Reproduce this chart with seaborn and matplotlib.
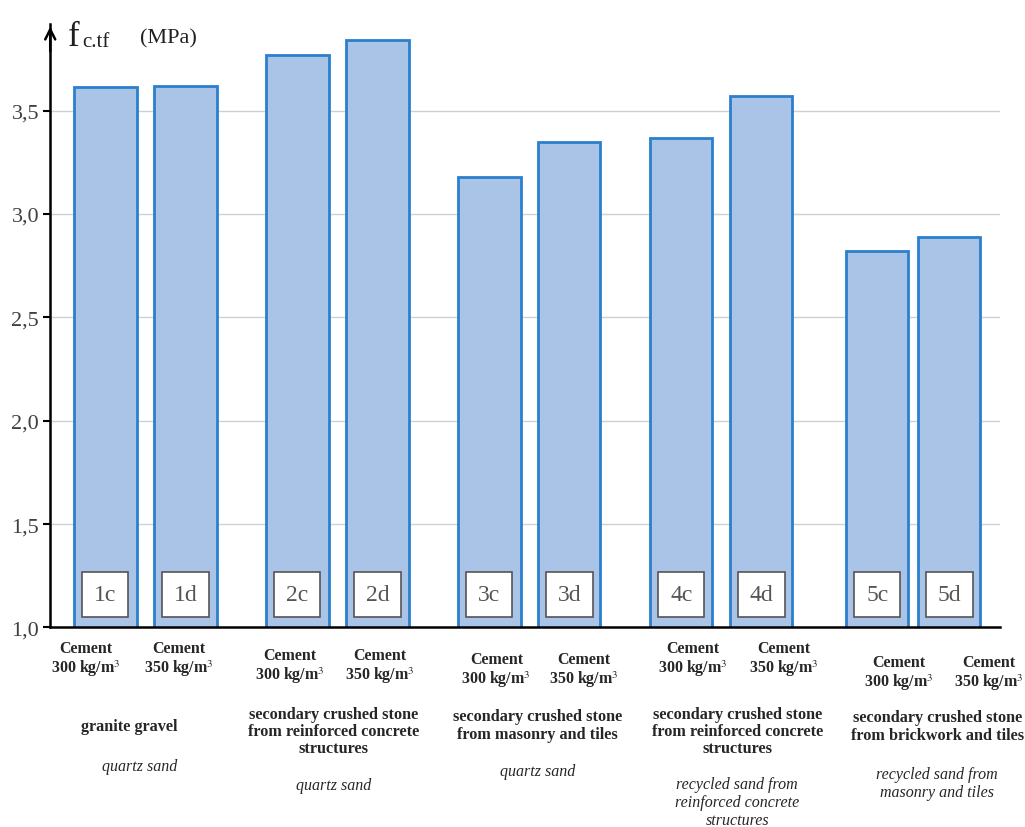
import numpy as np
import pandas as pd
import matplotlib
matplotlib.use("Agg")
import matplotlib.pyplot as plt
import matplotlib.transforms as mtransforms
import seaborn as sns

# Data
samples = ["1c", "1d", "2c", "2d", "3c", "3d", "4c", "4d", "5c", "5d"]
group_idx = [0, 0, 1, 1, 2, 2, 3, 3, 4, 4]
within_idx = [0, 1, 0, 1, 0, 1, 0, 1, 0, 1]
strength = [3.615, 3.62, 3.77, 3.84, 3.18, 3.35, 3.37, 3.57, 2.82, 2.89]
cement = ["Cement\n300 kg/m$^3$", "Cement\n350 kg/m$^3$"] * 5
gravel = [
    "granite gravel",
    "secondary crushed stone\nfrom reinforced concrete\nstructures",
    "secondary crushed stone\nfrom masonry and tiles",
    "secondary crushed stone\nfrom reinforced concrete\nstructures",
    "secondary crushed stone\nfrom brickwork and tiles",
]
sand = [
    "quartz sand",
    "quartz sand",
    "quartz sand",
    "recycled sand from\nreinforced concrete\nstructures",
    "recycled sand from\nmasonry and tiles",
]
yticks = [1.0, 1.5, 2.0, 2.5, 3.0, 3.5]

# positions: groups spaced wider than bars inside a group
pos = [g * 2.4 + w for g, w in zip(group_idx, within_idx)]
# last pair sits a little closer together
pos = [p + (0.05 - 0.1 * w if g == 4 else 0)
       for p, g, w in zip(pos, group_idx, within_idx)]
df = pd.DataFrame({"pos": pos, "fc": strength, "sample": samples})

sns.set_style("white")
plt.rcParams["font.family"] = ["Liberation Serif", "DejaVu Serif"]
plt.rcParams["mathtext.fontset"] = "stix"

fig = plt.figure(figsize=(10.25, 8.28), dpi=100)
ax = fig.add_axes([0.049, 0.241, 0.927, 0.729])

# native_scale width is relative to the smallest spacing (0.9 here)
sns.barplot(data=df, x="pos", y="fc", native_scale=True, width=0.78 / 0.9,
            color="#a9c4e6", edgecolor="#2b7fcc", linewidth=2,
            saturation=1, ax=ax, zorder=2)

ax.set_ylim(1.0, 3.92)
ax.set_xlim(-0.69, 11.19)
ax.set_yticks(yticks)
ax.set_yticklabels([f"{v:.1f}".replace(".", ",") for v in yticks],
                   fontsize=16, color="#404040")
ax.tick_params(axis="y", length=5, width=1.5, color="black", pad=3, left=True)
ax.set_xticks([])
ax.set_xlabel("")
ax.set_ylabel("")
for v in yticks[1:]:
    ax.axhline(v, color="#d0d0d0", lw=1, zorder=1)

for s in ["top", "right"]:
    ax.spines[s].set_visible(False)
ax.spines["left"].set_linewidth(1.8)
ax.spines["bottom"].set_linewidth(1.8)
ax.spines["left"].set_color("black")
ax.spines["bottom"].set_color("black")

# arrow on y axis
ax.annotate("", xy=(0, 1.0), xytext=(0, 0.95), xycoords="axes fraction",
            arrowprops=dict(arrowstyle="->", color="black", lw=1.8,
                            mutation_scale=18))

# axis title
fig.text(0.066, 0.945, "f", fontsize=25, color="#202020", va="baseline")
fig.text(0.080, 0.943, "c.tf", fontsize=15, color="#202020", va="baseline")
fig.text(0.137, 0.948, "(MPa)", fontsize=16, color="#202020", va="baseline")

# sample labels in boxes
for p, s in zip(pos, samples):
    ax.text(p, 1.16, s, ha="center", va="center", fontsize=17, color="#555555",
            bbox=dict(boxstyle="square,pad=0.5", fc="white", ec="#555555", lw=1.2),
            zorder=3)

trans = mtransforms.blended_transform_factory(ax.transData, fig.transFigure)
# label offsets in pixels (80 px per x unit)
cem_dx = [-20, -7, -8, 2, 7, 15, 12, 23, 22, 40]
cem_y = [660, 667, 671, 660, 674]
for p, c, g, d in zip(pos, cement, group_idx, cem_dx):
    ax.text(p + d / 80, 1 - cem_y[g] / 828, c, transform=trans, ha="center",
            va="center", fontsize=11.5, fontweight="bold", linespacing=1.1)

gravel_x = [129, 333, 537, 737, 937]
sand_x = [139, 333, 537, 737, 937]
gravel_y = [727, 732, 726, 732, 727]
sand_y = [767, 786, 772, 803, 784]
for g in range(5):
    ax.text((gravel_x[g] - 105) / 80, 1 - gravel_y[g] / 828, gravel[g],
            transform=trans, ha="center", va="center", fontsize=11.7,
            fontweight="bold", linespacing=1.1)
    ax.text((sand_x[g] - 105) / 80, 1 - sand_y[g] / 828, sand[g],
            transform=trans, ha="center", va="center", fontsize=11.5,
            style="italic", linespacing=1.15)

fig.savefig("out.png", dpi=100)
